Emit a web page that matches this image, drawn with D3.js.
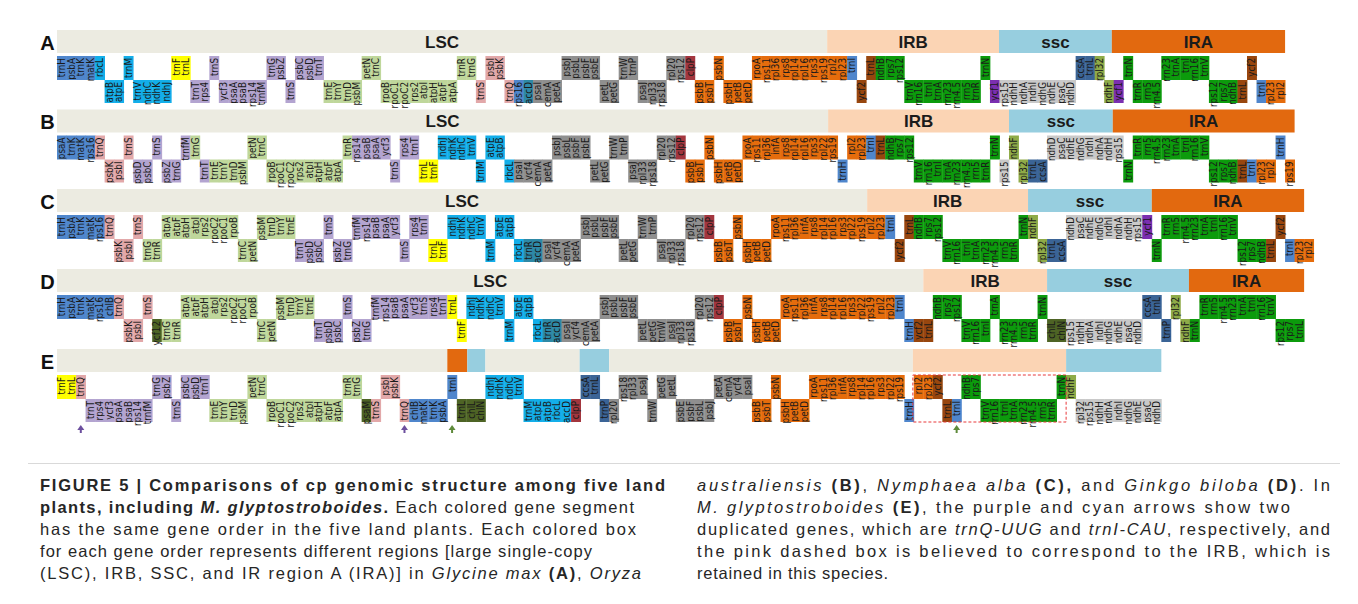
<!DOCTYPE html>
<html><head><meta charset="utf-8">
<script src="https://cdn.jsdelivr.net/npm/d3@7"></script>
<style>body{margin:0;background:#fff} svg{display:block}</style>
</head><body><svg id="fig" width="1358" height="604"></svg>
<script>
// Gene order blocks: [strand (T = upper lane, B = lower lane), colour group, genes in order]
const genesA = [
  ["T","blu","trnH psbA trnK matK"],["T","cya","rbcL"],["B","cya","atpB atpE"],["T","cya","trnM"],
  ["B","cya","trnV ndhC ndhK ndhJ"],["T","yel","trnF trnL"],["B","lav","trnT rps4"],["T","lav","trnS"],
  ["B","lav","ycf3 psaA psaB rps14 trnfM"],["T","lav","trnG psbZ"],["B","lav","trnS"],["T","lav","psbC psbD trnT"],
  ["B","lgr","trnE trnY trnD psbM"],["T","lgr","petN trnC"],["B","lgr","rpoB rpoC1 rpoC2 rps2 atpI atpH atpF atpA"],
  ["T","lgr","trnR trnG"],["B","pnk","trnS"],["T","pnk","psbI psbK"],["B","pnk","trnQ"],["B","blu","rps16"],
  ["B","tea","accD"],["B","gry","psaI cemA petA"],["T","gry","psbJ psbL psbF psbE"],["B","gry","petL petG"],
  ["T","gry","trnW trnP"],["B","gry","psaJ rpl33 rps18"],["T","gry","rpl20 rps12"],["T","red","clpP"],
  ["B","org","psbB psbT"],["T","org","psbN"],["B","org","psbH petB petD"],
  ["T","org","rpoA rps11 rpl36 rps8 rpl14 rpl16 rps3 rps19 rpl2 rpl23"],["T","blu","trnI"],["B","brn","ycf2"],
  ["T","brn","trnL"],["T","grn","ndhB rps7 rps12"],["B","grn","trnV rrn16 trnI trnA rrn23 rrn4.5 rrn5 trnR"],
  ["T","grn","trnN"],["B","pur","ycf1"],["B","lgy","rps15 ndhH ndhA ndhI ndhG ndhE psaC ndhD"],
  ["T","dbl","ccsA trnL"],["T","olv","rpl32"],["B","olv","ndhF"],["B","pur","ycf1"],["T","grn","trnN"],
  ["B","grn","trnR rrn5 rrn4.5"],["T","grn","rrn23 trnA trnI rrn16 trnV"],["B","grn","rps12 rps7 ndhB"],
  ["B","brn","trnL"],["T","brn","ycf2"],["B","blu","trnI"],["B","org","rpl23 rpl2"]
];
const genesB = [
  ["T","blu","psaA trnK matK rps16"],["T","pnk","trnQ"],["B","pnk","psbK psbI"],["T","pnk","trnS"],
  ["B","lav","psbD psbC"],["T","lav","trnS"],["B","lav","psbZ trnG"],["T","lav","trnfM"],["T","lgr","trnG"],
  ["B","lav","trnT"],["B","lgr","trnE trnY trnD psbM"],["T","lgr","petN trnC"],
  ["B","lgr","rpoB rpoC1 rpoC2 rps2 atpI atpH atpF atpA"],["T","lgr","trnR"],["T","lav","rps14 psaB psaA ycf3"],
  ["B","lav","trnS"],["T","lav","rps4 trnT"],["B","yel","trnL trnF"],["T","cya","ndhJ ndhK ndhC trnV"],
  ["B","cya","trnM"],["T","cya","atpE atpB"],["B","cya","rbcL"],["B","gry","psaI ycf4 cemA petA"],
  ["T","gry","psbJ psbL psbF psbE"],["B","gry","petL petG"],["T","gry","trnW trnP"],["B","gry","psaJ rpl33 rps18"],
  ["T","gry","rpl20 rps12"],["T","red","clpP"],["B","org","psbB psbT"],["T","org","psbN"],["B","org","psbH petB petD"],
  ["T","org","rpoA rps11 rpl36 infA rps8 rpl14 rpl16 rps3 rpl22 rps19"],["B","blu","trnH"],["T","org","rpl2 rpl23"],
  ["T","blu","trnI"],["T","brn","trnL"],["T","grn","ndhB rps7 rps12"],
  ["B","grn","trnV rrn16 trnI trnA rrn23 rrn4.5 rrn5 trnR"],["T","grn","trnN"],["B","lgy","rps15"],["T","olv","ndhF"],
  ["B","olv","rpl32"],["B","dbl","trnL ccsA"],["T","lgy","ndhD psaC ndhE ndhG ndhI ndhA ndhH rps15"],
  ["B","grn","trnN"],["T","grn","trnR rrn5 rrn4.5 rrn23 trnA trnI rrn16 trnV"],["B","grn","rps12 rps7 ndhB"],
  ["B","brn","trnL"],["B","blu","trnI"],["B","org","rpl23 rpl2"],["T","blu","trnH"],["B","org","rps19"]
];
const genesC = [
  ["T","blu","trnH psbA trnK matK rps16"],["T","pnk","trnQ"],["B","pnk","psbK psbI"],["T","pnk","trnS"],
  ["B","lgr","trnG trnR"],["T","lgr","atpA atpF atpH atpI rps2 rpoC2 rpoC1 rpoB"],["B","lgr","trnC petN"],
  ["T","lgr","psbM trnD trnY trnE"],["B","lav","trnT psbD psbC"],["T","lav","trnS"],["B","lav","psbZ trnG"],
  ["T","lav","trnfM rps14 psaB psaA ycf3"],["B","lav","trnS"],["T","lav","rps4 trnT"],["B","yel","trnL trnF"],
  ["T","cya","ndhJ ndhK ndhC trnV"],["B","cya","trnM"],["T","cya","atpE atpB"],["B","cya","rbcL"],
  ["B","tea","trnR accD"],["B","gry","psaI ycf4 cemA petA"],["T","gry","psbJ psbL psbF psbE"],["B","gry","petL petG"],
  ["T","gry","trnW trnP"],["B","gry","psaJ rpl33 rps18"],["T","gry","rpl20 rps12"],["T","red","clpP"],
  ["B","org","psbB psbT"],["T","org","psbN"],["B","org","psbH petB petD"],
  ["T","org","rpoA rps11 rpl36 infA rps8 rpl14 rpl16 rps3 rpl22 rps19 rpl2 rpl23"],["T","blu","trnI"],
  ["B","brn","ycf2"],["T","brn","trnL"],["T","grn","ndhB rps7 rps12"],
  ["B","grn","trnV rrn16 trnI trnA rrn23 rrn4.5 rrn5 trnR"],["T","grn","trnN"],["T","olv","ndhF"],["B","olv","rpl32"],
  ["B","dbl","trnL ccsA"],["T","lgy","ndhD psaC ndhE ndhG ndhI ndhA ndhH rps15"],["T","pur","ycf1"],["B","grn","trnN"],
  ["T","grn","trnR rrn5 rrn4.5 rrn23 trnA trnI rrn16 trnV"],["B","grn","rps12 rps7 ndhB"],["B","brn","trnL"],
  ["T","brn","ycf2"],["B","blu","trnI"],["B","org","rpl23 rpl2"]
];
const genesD = [
  ["T","blu","trnH psbA trnK matK rps16 chlB"],["T","pnk","trnQ"],["B","pnk","psbK psbI"],["T","pnk","trnS"],
  ["B","dol","ycf12"],["B","lgr","trnG trnR"],["T","lgr","atpA atpF atpH atpI rps2 rpoC2 rpoC1 rpoB"],
  ["B","lgr","trnC petN"],["T","lgr","psbM trnD trnY trnE"],["B","lav","trnT psbD psbC"],["T","lav","trnS"],
  ["B","lav","psbZ trnG"],["T","lav","trnfM rps14 psaB psaA ycf3 trnS rps4 trnT"],["T","yel","trnL"],["B","yel","trnF"],
  ["T","cya","ndhJ ndhK ndhC trnV"],["B","cya","trnM"],["T","cya","atpE atpB"],["B","cya","rbcL"],
  ["B","tea","trnR accD"],["B","gry","psaI ycf4 cemA petA"],["T","gry","psbJ psbL psbF psbE"],
  ["B","gry","petL petG trnW psaJ rpl33 rps18"],["T","gry","rpl20 rps12"],["T","red","clpP"],["B","org","psbB psbT"],
  ["T","org","psbN"],["B","org","psbH petB petD"],
  ["T","org","rpoA rps11 rpl36 infA rps8 rpl14 rpl16 rps3 rpl22 rps19 rpl2 rpl23"],["T","blu","trnI"],
  ["B","blu","trnH"],["B","brn","ycf2 trnL"],["T","grn","ndhB rps7 rps12"],["B","grn","trnV rrn16 trnI"],
  ["T","grn","trnA"],["B","grn","rrn23 rrn4.5 rrn5 trnR"],["T","grn","trnN"],["B","dol","chlL chlN"],
  ["B","lgy","rps15 ndhH ndhA ndhI ndhG ndhE psaC ndhD"],["T","dbl","ccsA trnL"],["B","dbl","trnP"],
  ["T","olv","rpl32"],["B","olv","ndhF"],["B","grn","trnN"],["T","grn","trnR rrn5 rrn4.5 rrn23 trnA trnI rrn16 trnV"],
  ["B","grn","rps12 rps7 trnL"]
];
const genesE = [
  ["T","yel","trnF trnL"],["T","pnk","trnQ"],["B","lav","trnT rps4 ycf3 psaA psaB rps14 trnfM"],
  ["T","lav","trnG psbZ"],["B","lav","trnS"],["T","lav","psbC psbD trnT"],["B","lgr","trnE trnY trnD psbM"],
  ["T","lgr","petN trnC"],["B","lgr","rpoB rpoC1 rpoC2 rps2 atpI atpH atpF atpA"],["T","lgr","trnR trnG"],
  ["B","dol","psaM"],["B","pnk","trnS"],["T","pnk","psbI psbK"],["B","pnk","trnQ"],["B","blu","chlB matK trnK psbA"],
  ["T","blu","trnI"],["B","dol","trnL chlL chlN"],["T","cya","ndhJ ndhK ndhC trnV"],
  ["B","cya","trnM atpE atpB rbcL accD"],["B","red","clpP"],["T","dbl","ccsA trnL"],["B","dbl","trnP"],
  ["B","gry","rpl20"],["T","gry","rps18 rpl33 psaJ"],["B","gry","trnW"],["T","gry","petG petL"],
  ["B","gry","psbE psbF psbL psbJ"],["T","gry","petA cemA ycf4 psaI"],["B","org","psbB psbT"],["T","org","psbN"],
  ["B","org","psbH petB petD"],["T","org","rpoA rps11 rpl36 infA rps8 rpl14 rpl16 rps3 rpl22 rps19"],
  ["B","blu","trnH"],["T","org","rpl2 rpl23"],["T","brn","ycf2"],["B","brn","trnL"],["B","blu","trnI"],
  ["T","grn","ndhB rps7"],["B","grn","trnV rrn16 trnI trnA rrn23 rrn4.5 rrn5 trnR"],["T","grn","trnN"],
  ["T","olv","ndhF"],["B","lgy","rpl32 rps15 ndhH ndhA ndhI ndhG ndhE psaC ndhD"]
];

// Region bars: [label, start slot, end slot, region colour]
const regionsA = [["LSC",0,80.9,"lsc"],["IRB",80.9,98.95,"irb"],["ssc",98.95,110.8,"ssc"],["IRA",110.8,129,"ira"]];
const regionsB = [["LSC",0,81,"lsc"],["IRB",81,100,"irb"],["ssc",100,110.9,"ssc"],["IRA",110.9,130,"ira"]];
const regionsC = [["LSC",0,85.1,"lsc"],["IRB",85.1,102,"irb"],["ssc",102,115,"ssc"],["IRA",115,131,"ira"]];
const regionsD = [["LSC",0,91,"lsc"],["IRB",91,104,"irb"],["ssc",104,118.9,"ssc"],["IRA",118.9,131,"ira"]];
const regionsE = [["",0,41,"lsc"],["",41,43.1,"ira"],["",43.1,45,"ssc"],["",45,54.9,"lsc"],["",54.9,58,"ssc"],
  ["",58,89.9,"lsc"],["",89.9,106,"irb"],["",106,116,"ssc"]];

const rowLetters = ["A","B","C","D","E"];
// Arrows under the duplicated genes of E: [gene name, occurrence, colour]
const arrowsE = [["trnQ",0,"#6c4f9e"],["trnQ",1,"#6c4f9e"],["trnI",0,"#5e8a3a"],["trnI",1,"#5e8a3a"]];
// Dashed box around the retained IRB in E: [start slot, end slot]
const dashedBoxE = [89.9, 106];

const geneColors = {blu:"#4f86cc",cya:"#13aee9",yel:"#ffff00",lav:"#b3a4d0",lgr:"#bfd79b",pnk:"#e2a8a9",
  tea:"#2e89a6",gry:"#8f8f8f",red:"#a3363e",org:"#e56c0c",brn:"#98460e",grn:"#0c9b0c",pur:"#7b2fb0",
  lgy:"#c9c9c9",dbl:"#3b6496",olv:"#8fab48",dol:"#4e6425"};
const regionColors = {lsc:"#ecebe1",irb:"#fbd4b4",ssc:"#97cedf",ira:"#e2690f"};

const rows = [
  {genes:genesA, regions:regionsA, y0:30},
  {genes:genesB, regions:regionsB, y0:109.5},
  {genes:genesC, regions:regionsC, y0:189},
  {genes:genesD, regions:regionsD, y0:269},
  {genes:genesE, regions:regionsE, y0:349}
];

const X0 = 57, STEP = 9.52;
const x = d3.scaleLinear().domain([0, 1]).range([X0, X0 + STEP]);
const BAR_H = 23, TOP_Y = 26, MID_Y = 50, BOT_Y = 73;
const FONT = "Liberation Sans, Arial, Helvetica, sans-serif";
const NARROW = "Liberation Sans Narrow, Arial Narrow, DejaVu Sans Condensed, sans-serif";

const svg = d3.select("#fig");
svg.append("rect").attr("width",1358).attr("height",604).attr("fill","#fff");

rows.forEach((row, r) => {
  const g = svg.append("g").attr("transform", `translate(0,${row.y0})`);
  const slots = [];
  row.genes.forEach(([strand, grp, names]) =>
    names.split(" ").forEach(n => slots.push({name:n, strand, grp})));
  row.slots = slots;

  g.selectAll("rect.region").data(row.regions).join("rect")
    .attr("x", d => x(d[1])).attr("width", d => x(d[2]) - x(d[1]))
    .attr("y", 0).attr("height", BAR_H).attr("fill", d => regionColors[d[3]]);
  g.selectAll("text.region").data(row.regions.filter(d => d[0])).join("text")
    .attr("x", d => (x(d[1]) + x(d[2])) / 2).attr("y", BAR_H / 2).attr("dy", "0.36em")
    .attr("text-anchor", "middle").attr("font-family", FONT)
    .attr("font-weight", "bold").attr("font-size", 17).attr("fill", "#1b1b1b").text(d => d[0]);

  g.append("text").attr("x", 47.5).attr("y", BAR_H / 2 + 1).attr("dy", "0.36em").attr("text-anchor", "middle")
    .attr("font-family", FONT).attr("font-weight", "bold")
    .attr("font-size", 20).attr("fill", "#111").text(rowLetters[r]);

  const gg = g.selectAll("g.gene").data(slots).join("g");
  gg.append("rect")
    .attr("x", (d, i) => x(i)).attr("width", STEP + 0.4)
    .attr("y", d => d.strand === "T" ? TOP_Y : MID_Y)
    .attr("height", d => d.strand === "T" ? MID_Y - TOP_Y : BOT_Y - MID_Y)
    .attr("fill", d => geneColors[d.grp]);
  gg.append("text")
    .attr("transform", (d, i) => `translate(${x(i) + STEP / 2},${(d.strand === "T" ? TOP_Y : MID_Y) + 2}) rotate(-90)`)
    .attr("dy", "0.36em").attr("text-anchor", "end")
    .attr("font-family", NARROW).attr("font-size", 9.8)
    .attr("fill", "#1a1a1a").text(d => d.name);
});

// E: dashed outline of the retained IRB and arrows under the duplicated genes
const rowE = rows[4], yE = rowE.y0;
svg.append("rect").attr("x", x(dashedBoxE[0])).attr("width", x(dashedBoxE[1]) - x(dashedBoxE[0]))
  .attr("y", yE + TOP_Y).attr("height", BOT_Y - TOP_Y)
  .attr("fill", "none").attr("stroke", "#e8393b").attr("stroke-width", 1).attr("stroke-dasharray", "3,2");
arrowsE.forEach(([name, k, c]) => {
  const idx = rowE.slots.map((s, i) => s.name === name ? i : -1).filter(i => i >= 0)[k];
  const cx = x(idx) + STEP / 2, yb = yE + BOT_Y + 11, yt = yE + BOT_Y + 3;
  svg.append("line").attr("x1", cx).attr("x2", cx).attr("y1", yb).attr("y2", yt + 4)
    .attr("stroke", c).attr("stroke-width", 2);
  svg.append("path").attr("d", `M${cx - 3.5},${yt + 5}L${cx},${yt}L${cx + 3.5},${yt + 5}Z`).attr("fill", c);
});

// Caption
svg.append("line").attr("x1", 28).attr("x2", 1340).attr("y1", 463.5).attr("y2", 463.5)
  .attr("stroke", "#d9d9d9").attr("stroke-width", 1);

// caption lines: [runs, right edge of the line (null = natural width)]
const captionLeft = [
  [[["FIGURE 5 | Comparisons of cp genomic structure among five land","b"]], 665],
  [[["plants, including ","b"],["M. glyptostroboides","bi"],[".","b"],[" Each colored gene segment",""]], 634],
  [[["has the same gene order in the five land plants. Each colored box",""]], 636],
  [[["for each gene order represents different regions [large single-copy",""]], 592],
  [[["(LSC), IRB, SSC, and IR region A (IRA)] in ",""],["Glycine max","i"],[" ",""],["(A)","b"],[", ",""],["Oryza","i"]], 641]
];
const captionRight = [
  [[["australiensis","i"],[" ",""],["(B)","b"],[", ",""],["Nymphaea alba","i"],[" ",""],["(C),","b"],[" and ",""],["Ginkgo biloba","i"],[" ",""],["(D)","b"],[". In",""]], 1330],
  [[["M. glyptostroboides","i"],[" ",""],["(E)","b"],[", the purple and cyan arrows show two",""]], 1290],
  [[["duplicated genes, which are ",""],["trnQ-UUG","i"],[" and ",""],["trnI-CAU","i"],[", respectively, and",""]], 1330],
  [[["the pink dashed box is believed to correspond to the IRB, which is",""]], 1330],
  [[["retained in this species.",""]], 888]
];
function captionLine([runs, xEnd], x0, y) {
  const t = svg.append("text").attr("x", x0).attr("y", y)
    .attr("font-family", FONT).attr("font-size", 16.5).attr("fill", "#262626");
  runs.forEach(([s, st]) => t.append("tspan").text(s)
    .attr("font-weight", st.includes("b") ? "bold" : "normal")
    .attr("font-style", st.includes("i") ? "italic" : "normal"));
  if (xEnd) t.attr("textLength", xEnd - x0).attr("lengthAdjust", "spacing");
}
captionLeft.forEach((line, k) => captionLine(line, 40, 491 + k * 22));
captionRight.forEach((line, k) => captionLine(line, 697, 491 + k * 22));
</script></body></html>
